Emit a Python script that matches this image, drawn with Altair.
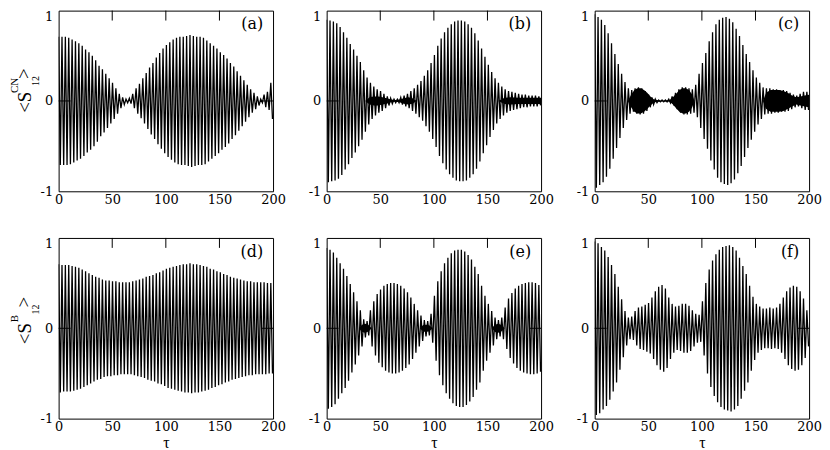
import math
import altair as alt
import pandas as pd

# carrier period (about 64 oscillations over 0..200)
PERIOD = math.pi

# peak amplitude of each oscillation (one value per cycle)
amp_a = [0.71, 0.71, 0.71, 0.70, 0.68, 0.66, 0.64, 0.61, 0.57, 0.54,
         0.50, 0.45, 0.39, 0.35, 0.30, 0.25, 0.20, 0.14, 0.08, 0.04,
         0.02, 0.03, 0.08, 0.14, 0.19, 0.25, 0.31, 0.37, 0.42, 0.48,
         0.53, 0.58, 0.62, 0.65, 0.68, 0.70, 0.71, 0.71, 0.72, 0.73,
         0.72, 0.71, 0.71, 0.70, 0.67, 0.64, 0.61, 0.58, 0.54, 0.51,
         0.47, 0.42, 0.38, 0.33, 0.28, 0.23, 0.18, 0.13, 0.09, 0.05,
         0.02, 0.07, 0.10, 0.20]
amp_b = [0.90, 0.89, 0.88, 0.86, 0.82, 0.76, 0.70, 0.63, 0.57, 0.50,
         0.43, 0.34, 0.26, 0.20, 0.16, 0.13, 0.11, 0.08, 0.05, 0.03,
         0.02, 0.02, 0.04, 0.06, 0.08, 0.11, 0.14, 0.18, 0.22, 0.28,
         0.34, 0.42, 0.51, 0.61, 0.69, 0.76, 0.81, 0.85, 0.88, 0.89,
         0.89, 0.88, 0.85, 0.81, 0.75, 0.67, 0.58, 0.49, 0.40, 0.32,
         0.25, 0.20, 0.16, 0.13, 0.11, 0.10, 0.09, 0.08, 0.07, 0.07,
         0.06, 0.06, 0.06, 0.05]
amp_c = [0.96, 0.93, 0.90, 0.84, 0.75, 0.64, 0.52, 0.41, 0.30, 0.21,
         0.14, 0.12, 0.14, 0.15, 0.14, 0.11, 0.07, 0.04, 0.02, 0.01,
         0.01, 0.01, 0.02, 0.05, 0.09, 0.13, 0.15, 0.15, 0.14, 0.13,
         0.18, 0.30, 0.42, 0.53, 0.66, 0.76, 0.85, 0.90, 0.92, 0.93,
         0.91, 0.87, 0.80, 0.72, 0.62, 0.52, 0.43, 0.34, 0.26, 0.20,
         0.15, 0.14, 0.14, 0.13, 0.13, 0.12, 0.12, 0.11, 0.09, 0.07,
         0.06, 0.08, 0.10, 0.10]
amp_d = [0.71, 0.70, 0.70, 0.70, 0.69, 0.68, 0.67, 0.65, 0.63, 0.61,
         0.59, 0.57, 0.56, 0.54, 0.53, 0.53, 0.52, 0.52, 0.51, 0.51,
         0.51, 0.51, 0.52, 0.53, 0.54, 0.55, 0.57, 0.58, 0.59, 0.61,
         0.62, 0.64, 0.66, 0.67, 0.68, 0.69, 0.70, 0.71, 0.71, 0.72,
         0.71, 0.71, 0.70, 0.69, 0.68, 0.66, 0.65, 0.63, 0.62, 0.60,
         0.59, 0.57, 0.56, 0.55, 0.54, 0.53, 0.52, 0.52, 0.51, 0.51,
         0.51, 0.51, 0.50, 0.50]
amp_e = [0.89, 0.87, 0.84, 0.78, 0.72, 0.66, 0.58, 0.49, 0.40, 0.30,
         0.20, 0.10, 0.08, 0.20, 0.30, 0.38, 0.43, 0.47, 0.49, 0.50,
         0.50, 0.49, 0.47, 0.44, 0.40, 0.34, 0.27, 0.20, 0.14, 0.09,
         0.08, 0.16, 0.36, 0.52, 0.63, 0.72, 0.78, 0.83, 0.86, 0.87,
         0.87, 0.85, 0.81, 0.76, 0.68, 0.60, 0.47, 0.36, 0.27, 0.19,
         0.12, 0.09, 0.12, 0.23, 0.33, 0.39, 0.44, 0.47, 0.49, 0.50,
         0.51, 0.51, 0.50, 0.48]
amp_f = [0.96, 0.94, 0.90, 0.86, 0.79, 0.70, 0.60, 0.46, 0.32, 0.19,
         0.12, 0.13, 0.19, 0.23, 0.24, 0.26, 0.28, 0.34, 0.41, 0.46,
         0.48, 0.44, 0.34, 0.27, 0.24, 0.25, 0.27, 0.27, 0.25, 0.20,
         0.16, 0.15, 0.30, 0.50, 0.65, 0.75, 0.82, 0.87, 0.90, 0.91,
         0.92, 0.90, 0.86, 0.78, 0.69, 0.60, 0.47, 0.35, 0.27, 0.24,
         0.22, 0.22, 0.23, 0.22, 0.23, 0.27, 0.34, 0.41, 0.45, 0.47,
         0.46, 0.41, 0.33, 0.20]

# dense (solid black) fast-oscillation regions: segment id, tau, half-height
dense_b_seg = [1] * 13 + [2] * 8
dense_b_t = [36, 40, 44, 48, 52, 56, 60, 64, 68, 72, 76, 80, 84,
             160, 166, 172, 178, 184, 190, 196, 200]
dense_b_a = [0.0, 0.04, 0.05, 0.05, 0.04, 0.03, 0.015, 0.01, 0.015, 0.03, 0.04, 0.03, 0.0,
             0.0, 0.035, 0.04, 0.035, 0.035, 0.035, 0.035, 0.035]
dense_c_seg = [1] * 21 + [2] * 12
dense_c_t = [31, 34, 37, 40, 43, 46, 49, 52, 55, 58, 62, 66, 70, 73, 76, 79, 82, 85, 88, 91, 93,
             157, 160, 164, 168, 172, 176, 180, 184, 188, 192, 196, 200]
dense_c_a = [0.0, 0.07, 0.12, 0.14, 0.14, 0.12, 0.09, 0.05, 0.02, 0.01, 0.005, 0.005, 0.01,
             0.04, 0.08, 0.12, 0.14, 0.14, 0.12, 0.07, 0.0,
             0.0, 0.09, 0.12, 0.12, 0.12, 0.11, 0.09, 0.06, 0.04, 0.05, 0.06, 0.07]
dense_e_seg = [1] * 5 + [2] * 5 + [3] * 5
dense_e_t = [30, 33, 36, 39, 42, 87, 90, 93, 96, 99, 154, 157, 160, 163, 166]
dense_e_a = [0.0, 0.04, 0.05, 0.035, 0.0, 0.0, 0.035, 0.04, 0.03, 0.0, 0.0, 0.04, 0.05, 0.035, 0.0]

x_ticks = [0, 50, 100, 150, 200]
y_ticks = [-1, 0, 1]
top_ticks = [50, 100, 150]
panel_labels = ["(a)", "(b)", "(c)", "(d)", "(e)", "(f)"]
y_sup = ["CN", "B"]

W, H = 216, 182
LABEL_FONT = "DejaVu Serif"
TITLE_FONT = "Liberation Serif"


def wave_frame(amps):
    rows = []
    for k, a in enumerate(amps):
        rows.append({"t": k * PERIOD, "v": a})
        rows.append({"t": k * PERIOD + PERIOD / 2, "v": -a})
    return pd.DataFrame(rows)


def dense_frame(seg, t, a):
    return pd.DataFrame({"seg": seg, "t": t, "hi": a, "lo": [-x for x in a]})


def panel(amps, label, dense=None, ysup=None, bottom=False, title_y=(102, 83, 76, 69)):
    xs = alt.Scale(domain=[0, 200], nice=False, zero=False)
    ys = alt.Scale(domain=[-1, 1], nice=False)
    xaxis = alt.Axis(values=x_ticks, ticks=False, domain=False, grid=False,
                     labelFont=LABEL_FONT, labelFontSize=13, labelColor="black",
                     labelPadding=2, labelFlush=False, labelOverlap=False,
                     title="τ" if bottom else "", titleFont=TITLE_FONT,
                     titleFontSize=16, titleFontWeight="normal",
                     titlePadding=1, titleColor="black")
    yaxis = alt.Axis(values=y_ticks, ticks=False, domain=False, grid=False,
                     labelFont=LABEL_FONT, labelFontSize=13, labelColor="black",
                     labelPadding=6, labelFlush=False, labelOverlap=False,
                     labelExpr="datum.value == -1 ? '-1' : (datum.value == 0 ? '0' : '1')",
                     labelBaseline={"condition": {"test": "datum.value == 1", "value": "top"},
                                    "value": "middle"},
                     title="")
    layers = []
    line = alt.Chart(wave_frame(amps)).mark_line(
        color="black", strokeWidth=1.3, clip=True
    ).encode(
        x=alt.X("t:Q", scale=xs, axis=xaxis),
        y=alt.Y("v:Q", scale=ys, axis=yaxis),
    )
    layers.append(line)
    if dense is not None:
        area = alt.Chart(dense_frame(*dense)).mark_area(
            color="black", opacity=1, clip=True
        ).encode(x="t:Q", y="hi:Q", y2="lo:Q", detail="seg:N")
        layers.append(area)
    ticks = alt.Chart(pd.DataFrame({"t": top_ticks})).mark_rule(
        color="black", strokeWidth=1
    ).encode(x="t:Q", y=alt.value(0), y2=alt.value(10))
    layers.append(ticks)
    zero = pd.DataFrame({"v": [0]})
    lt = alt.Chart(zero).mark_rule(color="black", strokeWidth=1).encode(
        y="v:Q", x=alt.value(0), x2=alt.value(12))
    rt = alt.Chart(zero).mark_rule(color="black", strokeWidth=1).encode(
        y="v:Q", x=alt.value(W - 12), x2=alt.value(W))
    layers += [lt, rt]
    lab = alt.Chart(pd.DataFrame({"s": [label]})).mark_text(
        align="right", baseline="alphabetic", font=LABEL_FONT, fontSize=16, color="black"
    ).encode(text="s:N", x=alt.value(W - 10), y=alt.value(19))
    layers.append(lab)
    if ysup is not None:
        common = dict(angle=270, align="left", baseline="alphabetic",
                      font=TITLE_FONT, color="black")

        def txt(s, size, x, y):
            return alt.Chart(pd.DataFrame({"s": [s]})).mark_text(
                fontSize=size, **common).encode(text="s:N", x=alt.value(x), y=alt.value(y))
        y_s, y_sup_, y_sub, y_close = title_y
        layers += [
            txt("<S", 19, -28, y_s),
            txt(ysup, 11, -41, y_sup_),
            txt("12", 10, -20, y_sub),
            txt(">", 19, -29, y_close),
        ]
    return alt.layer(*layers).properties(width=W, height=H)


panels = [
    panel(amp_a, panel_labels[0], ysup=y_sup[0], title_y=(103, 83, 76, 69)),
    panel(amp_b, panel_labels[1], dense=(dense_b_seg, dense_b_t, dense_b_a)),
    panel(amp_c, panel_labels[2], dense=(dense_c_seg, dense_c_t, dense_c_a)),
    panel(amp_d, panel_labels[3], ysup=y_sup[1], bottom=True, title_y=(107, 85, 77, 70)),
    panel(amp_e, panel_labels[4], dense=(dense_e_seg, dense_e_t, dense_e_a), bottom=True),
    panel(amp_f, panel_labels[5], bottom=True),
]

chart = alt.concat(
    *panels, columns=3, spacing={"row": 47, "column": 54}, bounds="flush"
).properties(
    padding={"left": 0, "top": 0, "right": 0, "bottom": 2}
).configure_view(stroke="black", strokeWidth=1)

chart.save("out.html", embed_options={"renderer": "svg", "actions": False})
